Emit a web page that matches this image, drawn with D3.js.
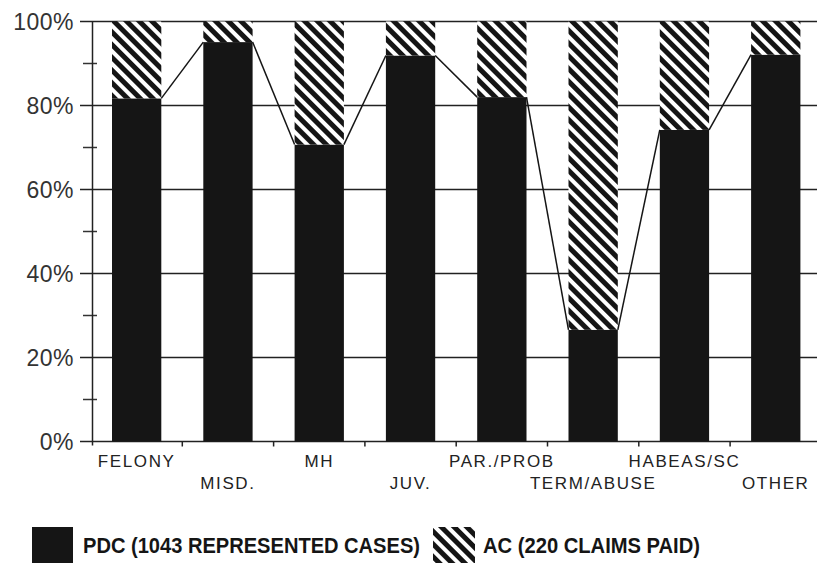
<!DOCTYPE html>
<html>
<head>
<meta charset="utf-8">
<script src="https://cdn.jsdelivr.net/npm/d3@7"></script>
<style>
  body { margin: 0; background: #fff; }
  svg { display: block; }
</style>
</head>
<body>
<div id="chart"></div>
<script>
const categories = ["FELONY", "MISD.", "MH", "JUV.", "PAR./PROB", "TERM/ABUSE", "HABEAS/SC", "OTHER"];
const pdcValues = [81.7, 95.1, 70.7, 91.9, 82.0, 26.6, 74.2, 92.1];
const acValues = [18.3, 4.9, 29.3, 8.1, 18.0, 73.4, 25.8, 7.9];
const majorTicks = [0, 20, 40, 60, 80, 100];
const minorTicks = [10, 30, 50, 70, 90];
const legendLabels = ["PDC (1043 REPRESENTED CASES)", "AC (220 CLAIMS PAID)"];

const width = 817, height = 563;
const ink = "#151515";

const svg = d3.select("#chart").append("svg")
    .attr("width", width)
    .attr("height", height);

svg.append("rect").attr("width", width).attr("height", height).attr("fill", "#fff");

// hatch pattern "\\\"
const defs = svg.append("defs");
const pat = defs.append("pattern")
    .attr("id", "hatch")
    .attr("patternUnits", "userSpaceOnUse")
    .attr("width", 9)
    .attr("height", 9)
    .attr("patternTransform", "rotate(-45)");
pat.append("rect").attr("width", 9).attr("height", 9).attr("fill", "#fff");
pat.append("rect").attr("width", 5).attr("height", 9).attr("fill", ink);

const rows = categories.map((c, i) => ({ cat: c, pdc: pdcValues[i], ac: acValues[i] }));
const stack = d3.stack().keys(["pdc", "ac"]);
const series = stack(rows);

const x = d3.scaleBand()
    .domain(categories)
    .range([91, 821.4])
    .paddingInner(0.46)
    .paddingOuter(0.23);

const y = d3.scaleLinear()
    .domain([0, 100])
    .range([441.5, 21.5]);

// gridlines
svg.append("g").selectAll("line")
    .data(majorTicks)
    .join("line")
    .attr("x1", 80)
    .attr("x2", width)
    .attr("y1", d => y(d))
    .attr("y2", d => y(d))
    .attr("stroke", "#222")
    .attr("stroke-width", 1.5);

// minor ticks
svg.append("g").selectAll("line")
    .data(minorTicks)
    .join("line")
    .attr("x1", 83)
    .attr("x2", 97)
    .attr("y1", d => y(d))
    .attr("y2", d => y(d))
    .attr("stroke", "#333")
    .attr("stroke-width", 1.5);

// y axis line
svg.append("line")
    .attr("x1", 92.5).attr("x2", 92.5)
    .attr("y1", y(100)).attr("y2", y(0) + 4)
    .attr("stroke", "#222")
    .attr("stroke-width", 1.5);

// x ticks at band boundaries
const boundaries = categories.slice(1).map(c => x(c) - x.step() * x.paddingInner() / 2);
svg.append("g").selectAll("line")
    .data(boundaries)
    .join("line")
    .attr("x1", d => d).attr("x2", d => d)
    .attr("y1", y(0)).attr("y2", y(0) + 5)
    .attr("stroke", "#222")
    .attr("stroke-width", 1.5);

// bars
const fills = { pdc: ink, ac: "url(#hatch)" };
svg.append("g").selectAll("g")
    .data(series)
    .join("g")
    .attr("fill", d => fills[d.key])
    .selectAll("rect")
    .data(d => d)
    .join("rect")
    .attr("x", d => x(d.data.cat))
    .attr("y", d => y(d[1]))
    .attr("width", x.bandwidth())
    .attr("height", d => y(d[0]) - y(d[1]));

// series lines joining PDC tops
const pdcTops = [];
rows.forEach((d, i) => {
    if (i > 0) pdcTops.push([x(d.cat), y(d.pdc)]);
    if (i < rows.length - 1) pdcTops.push([x(d.cat) + x.bandwidth(), y(d.pdc)]);
});
for (let i = 0; i < pdcTops.length; i += 2) {
    svg.append("path")
        .attr("d", d3.line()([pdcTops[i], pdcTops[i + 1]]))
        .attr("fill", "none")
        .attr("stroke", ink)
        .attr("stroke-width", 1.5);
}

// y tick labels
svg.append("g").selectAll("text")
    .data(majorTicks)
    .join("text")
    .attr("x", 74)
    .attr("y", d => y(d) + 8)
    .attr("text-anchor", "end")
    .attr("font-family", "Liberation Sans, Arial, sans-serif")
    .attr("font-size", 23)
    .attr("letter-spacing", 0.5)
    .attr("fill", "#333")
    .text(d => d + "%");

// x labels, staggered
svg.append("g").selectAll("text")
    .data(categories)
    .join("text")
    .attr("x", d => x(d) + x.bandwidth() / 2)
    .attr("y", (d, i) => i % 2 === 0 ? 467 : 489)
    .attr("text-anchor", "middle")
    .attr("font-family", "Liberation Sans, Arial, sans-serif")
    .attr("font-size", 17)
    .attr("letter-spacing", 1.6)
    .attr("fill", "#222")
    .text(d => d);

// legend
const legend = svg.append("g");
legend.append("rect").attr("x", 32).attr("y", 527).attr("width", 41).attr("height", 36).attr("fill", ink);
legend.append("text")
    .attr("x", 83).attr("y", 553)
    .attr("font-family", "Liberation Sans, Arial, sans-serif")
    .attr("font-weight", "bold")
    .attr("font-size", 22)
    .attr("textLength", 337)
    .attr("lengthAdjust", "spacingAndGlyphs")
    .attr("fill", ink)
    .text(legendLabels[0]);
legend.append("rect").attr("x", 433).attr("y", 527).attr("width", 42).attr("height", 36).attr("fill", "url(#hatch)");
legend.append("text")
    .attr("x", 483).attr("y", 553)
    .attr("font-family", "Liberation Sans, Arial, sans-serif")
    .attr("font-weight", "bold")
    .attr("font-size", 22)
    .attr("textLength", 217)
    .attr("lengthAdjust", "spacingAndGlyphs")
    .attr("fill", ink)
    .text(legendLabels[1]);
</script>
</body>
</html>
